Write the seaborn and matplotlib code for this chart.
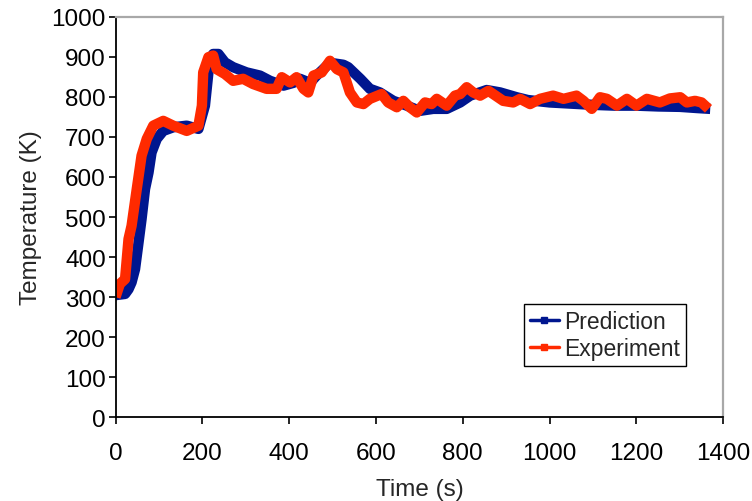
import numpy as np
import pandas as pd
import matplotlib
matplotlib.use("Agg")
import matplotlib.pyplot as plt
from matplotlib.lines import Line2D
import seaborn as sns

# ---- data ----
pred_time = [0, 22, 30, 37, 45, 52, 60, 68, 76, 83, 95, 110, 133, 164, 191, 206, 214, 225,
             237, 252, 271, 302, 333, 356, 387, 410, 425, 448, 463, 494, 525, 536, 564, 586,
             609, 640, 671, 701, 732, 763, 794, 817, 855, 886, 924, 950, 1000, 1050, 1100,
             1150, 1200, 1250, 1300, 1340, 1370]
pred_temp = [305, 308, 320, 337, 370, 428, 495, 570, 611, 661, 695, 715, 724, 728, 720, 778,
             861, 907, 907, 886, 874, 861, 853, 840, 828, 835, 845, 835, 853, 885, 880, 874,
             845, 820, 811, 790, 778, 765, 770, 770, 786, 803, 817, 811, 799, 792, 786, 783,
             780, 778, 778, 776, 775, 772, 770]

exp_time = [0, 10, 22, 30, 37, 49, 60, 72, 87, 110, 133, 164, 191, 199, 202, 214, 225, 233,
            252, 271, 294, 317, 348, 371, 383, 402, 417, 433, 444, 456, 475, 494, 510, 525,
            540, 556, 571, 586, 613, 628, 648, 663, 678, 694, 713, 728, 740, 763, 782, 794,
            809, 824, 840, 859, 870, 893, 916, 932, 955, 978, 1008, 1032, 1062, 1078, 1097,
            1116, 1132, 1155, 1178, 1200, 1224, 1254, 1277, 1301, 1316, 1335, 1350, 1366]
exp_temp = [300, 333, 345, 445, 478, 570, 653, 695, 728, 740, 728, 715, 728, 778, 861, 899,
            903, 869, 857, 840, 845, 832, 820, 820, 849, 836, 849, 820, 811, 853, 861, 890,
            869, 861, 811, 786, 782, 795, 807, 786, 774, 790, 774, 761, 786, 782, 795, 778,
            803, 807, 824, 811, 803, 815, 807, 790, 786, 795, 782, 795, 803, 795, 803, 790,
            770, 799, 795, 778, 795, 778, 795, 786, 796, 799, 786, 790, 786, 770]

series_names = ["Prediction", "Experiment"]
series_colors = ["#00168F", "#FF2A00"]
x_ticks = [0, 200, 400, 600, 800, 1000, 1200, 1400]
y_ticks = [0, 100, 200, 300, 400, 500, 600, 700, 800, 900, 1000]

df = pd.concat([
    pd.DataFrame({"Time": pred_time, "Temp": pred_temp, "Series": series_names[0]}),
    pd.DataFrame({"Time": exp_time, "Temp": exp_temp, "Series": series_names[1]}),
], ignore_index=True)

sns.set_style("white")
plt.rcParams["font.family"] = ["Liberation Sans", "DejaVu Sans"]

FS = 17.5

fig = plt.figure(figsize=(7.52, 5.02), dpi=100)
ax = fig.add_axes([0.1536, 0.1667, 0.8082, 0.7980])

sns.lineplot(data=df, x="Time", y="Temp", hue="Series", palette=series_colors,
             hue_order=series_names, sort=False, estimator=None, legend=False,
             linewidth=7.5, ax=ax)
for ln in ax.lines:
    ln.set_solid_joinstyle("round")
    ln.set_solid_capstyle("butt")

ax.set_xlim(0, 1400)
ax.set_ylim(0, 1000)
ax.set_xticks(x_ticks)
ax.set_yticks(y_ticks)
ax.tick_params(axis="both", labelsize=FS, colors="black", direction="out",
               length=5, width=1.2, left=True, bottom=True)
ax.tick_params(axis="x", pad=13)
ax.tick_params(axis="y", pad=2)
ax.set_xlabel("Time (s)", fontsize=FS, labelpad=10)
ax.set_ylabel("Temperature (K)", fontsize=FS, labelpad=7)
ax.grid(False)

for side in ["left", "bottom"]:
    ax.spines[side].set_color("black")
    ax.spines[side].set_linewidth(1.3)
for side in ["top", "right"]:
    ax.spines[side].set_color("#A8A8A8")
    ax.spines[side].set_linewidth(1.6)

handles = [Line2D([], [], color=c, lw=2.5, marker="s", markersize=5)
           for c in series_colors]
leg = ax.legend(handles, series_names, loc="upper left",
                bbox_to_anchor=(0.6726, 0.2828), borderaxespad=0,
                fontsize=16.5, frameon=True, fancybox=False, framealpha=1,
                handlelength=1.25, handletextpad=0.25, borderpad=0.25,
                labelspacing=0.2)
leg.get_frame().set_edgecolor("black")
leg.get_frame().set_linewidth(1.0)

fig.savefig("out.png", dpi=100, facecolor="white")
